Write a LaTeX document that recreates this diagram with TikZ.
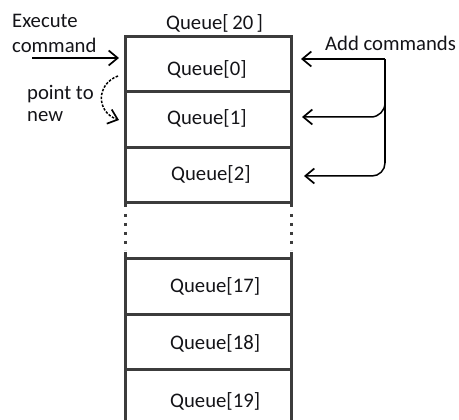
\documentclass[tikz,border=0pt]{standalone}
\usepackage{fontspec}
\setmainfont{Carlito}
\usetikzlibrary{arrows.meta}
\definecolor{frameline}{HTML}{3C3C3C}
\definecolor{inktext}{HTML}{141418}
\begin{document}
\begin{tikzpicture}[x=1pt,y=-1pt,
  frame/.style={draw=frameline, line width=3pt, line join=miter},
  gap/.style={frame, dash pattern=on 3pt off 6pt},
  lbl/.style={font=\fontsize{20.7}{24}\selectfont, inner sep=0pt, anchor=base west, text=inktext},
  ptr/.style={line width=1.5pt, -{Straight Barb[length=9pt,width=15pt,line width=1.7pt]}},
  newptr/.style={ptr, dash pattern=on 2.5pt off 1.5pt},
]
\useasboundingbox (0,0) rectangle (459,420);

% the queue array, open at the bottom
\draw[frame] (125,207) -- (125,37) -- (291,37) -- (291,207);
\foreach \yy in {92,148,203,259,315,370}
  \draw[frame] (125,\yy) -- (291,\yy);
\draw[gap] (125,214) -- (125,250);
\draw[gap] (291,214) -- (291,250);
\draw[frame] (125,252) -- (125,422);
\draw[frame] (291,252) -- (291,422);

% slot labels
\node[lbl] (qhead) at (166,30) {Queue[\,20\,]};
\node[lbl] (q0)  at (167,76)  {Queue[0]};
\node[lbl] (q1)  at (167,125) {Queue[1]};
\node[lbl] (q2)  at (171,181) {Queue[2]};
\node[lbl] (q17) at (170,293) {Queue[17]};
\node[lbl] (q18) at (170,350) {Queue[18]};
\node[lbl] (q19) at (170,407) {Queue[19]};

% left side labels
\node[lbl] (exec) at (12,28) {Execute};
\node[lbl] (cmd)  at (12,53) {command};
\node[lbl] (pt)   at (27,100) {point to};
\node[lbl] (nw)   at (27,122) {new};
\node[lbl] (add)  at (325,51) {Add commands};

% connector ends
\coordinate (execfrom) at (32,58);
\coordinate (execto)   at (119,58);
\coordinate (newfrom)  at (118,76);
\coordinate (newto)    at (119,120);
\coordinate (rail0)    at (385,59);
\coordinate (rail1)    at (385,103);
\coordinate (rail2)    at (385,163);
\coordinate (in0)      at (301,59);
\coordinate (in1)      at (302,117);
\coordinate (in2)      at (304,176);

% execute pointer
\draw[ptr] (execfrom) -- (execto);
% move to the next entry
\draw[newptr] (newfrom) .. controls (96,84) and (96,112) .. (newto);

% add-command rail feeding the first three slots
\draw[line width=1.5pt] (rail0) -- (rail2);
\draw[ptr] (rail0) -- (in0);
\draw[ptr] (rail1) arc[start angle=0, end angle=-90, radius=14pt] -- (in1);
\draw[ptr] (rail2) arc[start angle=0, end angle=-90, radius=13pt] -- (in2);
\end{tikzpicture}
\end{document}
